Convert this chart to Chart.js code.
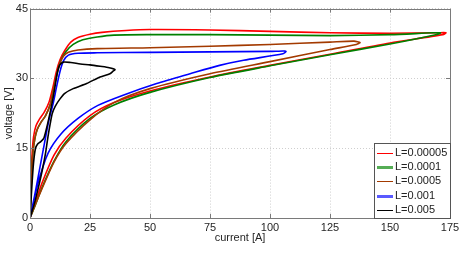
<!DOCTYPE html>
<html>
<head>
<meta charset="utf-8">
<script src="https://cdn.jsdelivr.net/npm/chart.js"></script>
<style>
  html, body { margin:0; padding:0; background:#fff; }
  #wrap { width:471px; height:256px; position:relative; }
</style>
</head>
<body>
<div id="wrap"><canvas id="chartLoop" width="471" height="256"></canvas></div>
<script>
// 범례 라벨
var seriesLabels = ['L=0.00005', 'L=0.0001', 'L=0.0005', 'L=0.001', 'L=0.005'];
var seriesColors = ['#ff0000', '#008000', '#a33a00', '#0000ff', '#000000'];
var legendColors = ['#ff0000', '#55ad55', '#a33a00', '#5a5aff', '#000000'];
var legendWidths = [1, 3, 1, 3, 1];

// 축 눈금
var xTicks = [0, 25, 50, 75, 100, 125, 150, 175];
var yTicks = [0, 15, 30, 45];

// L=0.00005 (위쪽 가지 -> 끝 -> 아래쪽 가지)
var cur1 = [0, 0.4, 0.9, 1.5, 2.5, 4, 6, 8, 9.5, 11, 12.5, 14.5, 17, 20, 25, 30, 40, 50, 75, 100, 125, 150, 170, 173.3,
            172, 150, 125, 100, 75, 50, 35, 25, 15, 10, 5, 2, 0];
var volt1 = [0, 8, 14, 17.5, 19.8, 21.3, 22.8, 25, 28, 31.5, 34, 36, 37.8, 38.8, 39.5, 39.9, 40.3, 40.5, 40.4, 40.1, 39.8, 39.7, 39.8, 39.8,
             39.4, 37.6, 35.2, 32.8, 30.3, 27.3, 24.8, 22.0, 17.2, 13.5, 7.5, 3.0, 0];

// L=0.0001
var cur2 = [0, 0.6, 1.2, 2, 3, 4.5, 6.5, 8.5, 10, 11.5, 13, 15, 18, 22, 28, 35, 50, 75, 100, 125, 150, 168, 171,
            170, 150, 125, 100, 75, 50, 35, 25, 15, 10, 5, 2, 0];
var volt2 = [0, 8, 14, 17, 19, 20.5, 22, 24.5, 28, 31.5, 34, 35.8, 37.3, 38.3, 38.9, 39.3, 39.4, 39.4, 39.3, 39.2, 39.4, 39.8, 39.8,
             39.5, 37.4, 35.1, 32.7, 30.2, 27.0, 24.3, 21.4, 16.4, 12.2, 6.5, 2.5, 0];

// L=0.0005
var cur3 = [0, 0.6, 1.2, 2, 3, 4.5, 6.5, 8.5, 10, 11.5, 12.5, 14, 16, 20, 28, 50, 75, 100, 125, 135, 137.5,
            136, 125, 100, 75, 50, 35, 25, 15, 10, 5, 2, 0];
var volt3 = [0, 8, 14, 17, 19, 20.5, 22, 24.5, 28, 31.5, 33.3, 34.8, 35.6, 36.1, 36.4, 36.6, 36.9, 37.3, 37.8, 38.0, 37.7,
             37.3, 36.2, 33.6, 31.0, 27.8, 24.8, 21.1, 16.0, 12.0, 6.3, 2.6, 0];

// L=0.001
var cur4 = [0, 2, 4, 6, 8, 9.6, 11, 12.5, 14, 16, 20, 28, 50, 75, 100, 105.5, 106.7,
            105.4, 89, 79, 66.7, 52.8, 38.8, 28.3, 20, 13, 7.5, 3.3, 0];
var volt4 = [0, 5, 10.5, 16, 21.3, 24.5, 28, 31.5, 33.8, 35, 35.4, 35.5, 35.6, 35.7, 35.8, 35.9, 35.8,
             35.3, 33.9, 32.8, 31.0, 28.9, 26.4, 24.2, 21.4, 18.1, 13.9, 7.4, 0];

// L=0.005
var cur5 = [0, 0.8, 1.5, 2.3, 3.2, 4.5, 5.8, 7, 8.3, 9.5, 10.5, 11.3, 12.3, 13.9, 17, 21, 25, 29.2, 33, 35.4,
            34.5, 33.3, 29.2, 23.6, 18, 14.5, 12.5, 10.5, 9.3, 8.5, 7.5, 6.5, 5, 3, 1.5, 0];
var volt5 = [0, 7, 12, 15, 15.9, 16.4, 17.2, 19.5, 22.5, 25.5, 28.5, 31, 32.8, 33.5, 33.4, 33.1, 32.9, 32.6, 32.3, 31.9,
             31.5, 31.0, 30.3, 28.9, 27.8, 26.8, 25.6, 24, 22.5, 20.5, 17.5, 14, 10, 5.5, 2.5, 0];

var curList = [cur1, cur2, cur3, cur4, cur5];
var voltList = [volt1, volt2, volt3, volt4, volt5];

function toPoints(xs, ys){
  var pts = [];
  for (var i = 0; i < xs.length; i++) pts.push({x: xs[i], y: ys[i]});
  return pts;
}

var datasets = seriesLabels.map(function(lbl, i){
  return {
    label: lbl,
    data: toPoints(curList[i], voltList[i]),
    borderColor: seriesColors[i],
    backgroundColor: seriesColors[i],
    borderWidth: 1.6,
    pointRadius: 0,
    showLine: true,
    fill: false,
    tension: 0.25,
    order: seriesLabels.length - 1 - i
  };
});

// 테두리, 안쪽 눈금, 범례
var framePlugin = {
  id: 'frameLegend',
  afterDraw: function(chart){
    var ctx = chart.ctx, a = chart.chartArea;
    var xs = chart.scales.x, ys = chart.scales.y;
    ctx.save();
    ctx.strokeStyle = '#7a7a7a';
    ctx.lineWidth = 1;
    ctx.beginPath();
    ctx.rect(Math.round(a.left) + 0.5, Math.round(a.top) + 0.5, Math.round(a.right - a.left), Math.round(a.bottom - a.top));
    ctx.stroke();
    ctx.beginPath();
    xTicks.forEach(function(v){
      var px = Math.round(xs.getPixelForValue(v)) + 0.5;
      ctx.moveTo(px, a.bottom); ctx.lineTo(px, a.bottom - 4);
      ctx.moveTo(px, a.top); ctx.lineTo(px, a.top + 4);
    });
    yTicks.forEach(function(v){
      var py = Math.round(ys.getPixelForValue(v)) + 0.5;
      ctx.moveTo(a.left, py); ctx.lineTo(a.left + 4, py);
      ctx.moveTo(a.right, py); ctx.lineTo(a.right - 4, py);
    });
    ctx.stroke();

    // 범례 상자
    var bx = 374.5, by = 143.5, bw = Math.round(a.right) - 374, bh = Math.round(a.bottom) - 143;
    ctx.fillStyle = '#ffffff';
    ctx.fillRect(bx, by, bw, bh);
    ctx.strokeStyle = '#555555';
    ctx.strokeRect(bx, by, bw, bh);
    ctx.font = '11px "Liberation Sans", Arial, sans-serif';
    ctx.textBaseline = 'middle';
    ctx.fillStyle = '#222222';
    seriesLabels.forEach(function(lbl, i){
      var ty = 152.5 + i * 14.4;
      ctx.strokeStyle = legendColors[i];
      ctx.lineWidth = legendWidths[i];
      ctx.beginPath();
      ctx.moveTo(377, Math.round(ty) + 0.5); ctx.lineTo(393, Math.round(ty) + 0.5);
      ctx.stroke();
      ctx.fillText(lbl, 395, ty);
    });
    ctx.restore();
  }
};

new Chart(document.getElementById('chartLoop').getContext('2d'), {
  type: 'scatter',
  data: { datasets: datasets },
  options: {
    responsive: false,
    animation: false,
    layout: { padding: { left: 2, right: 21, top: 8, bottom: 10 } },
    plugins: { legend: { display: false }, tooltip: { enabled: false } },
    scales: {
      x: {
        type: 'linear', min: 0, max: 175,
        afterBuildTicks: function(s){ s.ticks = xTicks.map(function(v){ return {value: v}; }); },
        afterFit: function(s){ s.height = 256 - 10 - 218; },
        ticks: { padding: 3, color: '#262626', font: { size: 11, family: '"Liberation Sans", Arial, sans-serif' }, maxRotation: 0 },
        grid: { color: '#cfcfcf', drawTicks: false },
        border: { display: false, dash: [1, 2] },
        title: { display: true, text: 'current [A]', color: '#262626', padding: { top: 0, bottom: 1 },
                 font: { size: 11, family: '"Liberation Sans", Arial, sans-serif' } }
      },
      y: {
        type: 'linear', min: 0, max: 45,
        afterBuildTicks: function(s){ s.ticks = yTicks.map(function(v){ return {value: v}; }); },
        afterFit: function(s){ s.width = 28; },
        ticks: { padding: 2, color: '#262626', font: { size: 11, family: '"Liberation Sans", Arial, sans-serif' } },
        grid: { color: '#cfcfcf', drawTicks: false },
        border: { display: false, dash: [1, 2] },
        title: { display: true, text: 'voltage [V]', color: '#262626', padding: { top: 0, bottom: 0 },
                 font: { size: 11, family: '"Liberation Sans", Arial, sans-serif' } }
      }
    }
  },
  plugins: [framePlugin]
});
</script>
</body>
</html>
